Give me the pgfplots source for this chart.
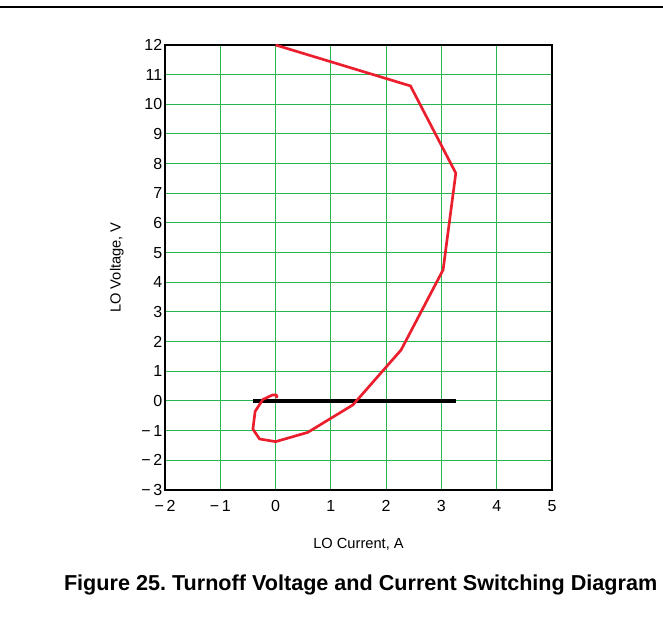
\documentclass[border=0pt]{standalone}
\usepackage{pgfplots}
\pgfplotsset{compat=1.18}
\usepackage{fontspec}
\setmainfont{Liberation Sans}
\definecolor{gridgreen}{RGB}{40,180,80}
\definecolor{curvered}{RGB}{235,30,45}
\begin{document}
\begin{tikzpicture}[x=0.75pt,y=0.75pt]
\path[use as bounding box] (0,0) rectangle (663,620);
\draw[line width=1.2pt] (0,613) -- (663,613);
\begin{axis}[
  at={(123.75pt,97.5pt)}, anchor=south west,
  scale only axis, width=290.25pt, height=333.75pt,
  xmin=-2, xmax=5, ymin=-3, ymax=12,
  xtick={-2,...,5}, ytick={-3,...,12},
  xticklabels={−\,2,−\,1,0,1,2,3,4,5},
  yticklabels={−\,3,−\,2,−\,1,0,1,2,3,4,5,6,7,8,9,10,11,12},
  major tick length=0pt,
  grid=major,
  major grid style={gridgreen, line width=0.75pt},
  axis line style={black, line width=1pt},
  tick label style={font=\fontsize{12}{13}\selectfont},
  xticklabel style={yshift=-4.5pt},
  yticklabel style={xshift=1.5pt},
  xlabel={LO Current, A},
  ylabel={LO Voltage, V},
  label style={font=\fontsize{11}{12}\selectfont},
  xlabel style={yshift=-13pt},
  ylabel style={yshift=6.5pt},
]
\addplot[black, line width=3.5pt] coordinates {(-0.41,0) (3.26,0)};
\addplot[curvered, line width=2pt, line join=round] coordinates {
(0,12) (2.44,10.62) (3.26,7.68) (3.03,4.42) (2.27,1.72) (1.4,-0.13)
(0.58,-1.06) (0.0,-1.37) (-0.29,-1.28) (-0.41,-0.95) (-0.37,-0.35)
(-0.23,0.05) (-0.06,0.2) (0.02,0.2) (0.02,0.1)
};
\end{axis}
\node[anchor=east, font=\bfseries\fontsize{16.2}{17}\selectfont] at (662,35) {Figure 25.\ Turnoff Voltage and Current Switching Diagram};
\end{tikzpicture}
\end{document}
